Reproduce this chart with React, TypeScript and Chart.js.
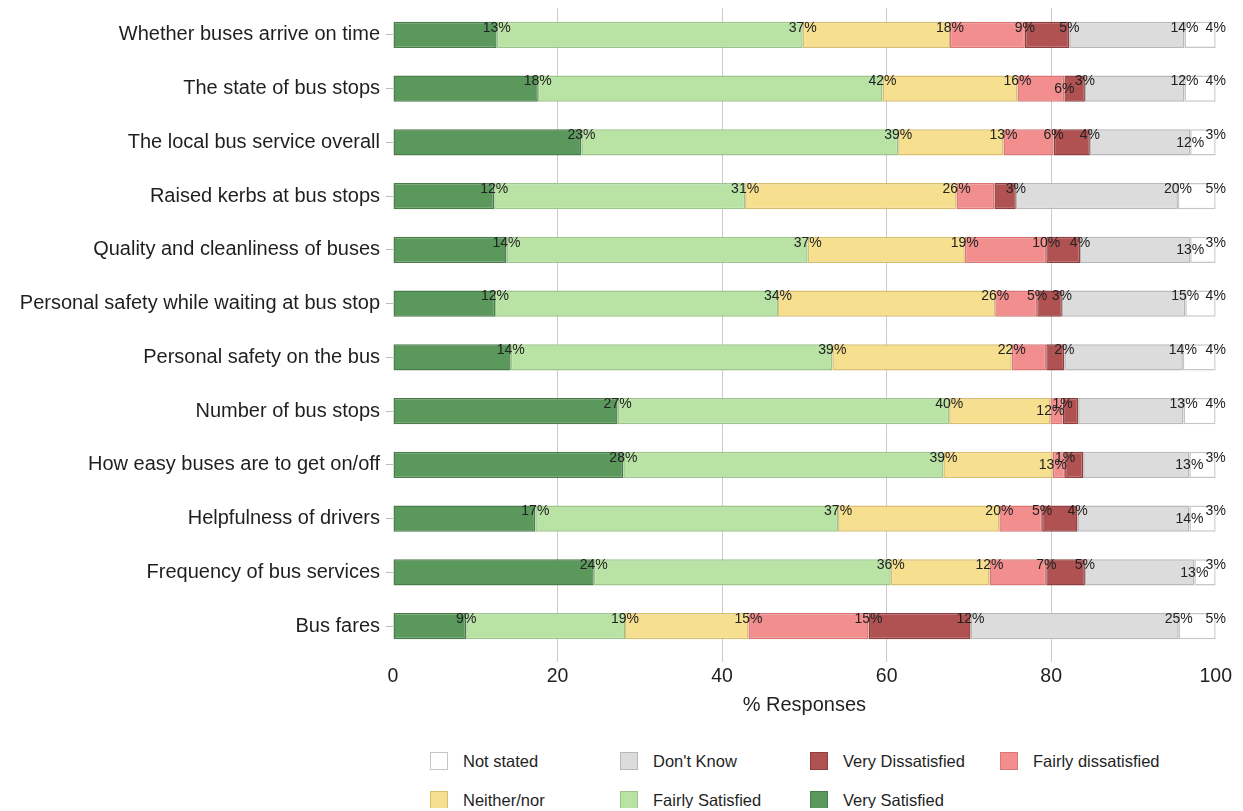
import React, { useEffect, useRef } from "react";
import { Chart, registerables } from "chart.js";

Chart.register(...registerables);

const categories = [
  "Whether buses arrive on time",
  "The state of bus stops",
  "The local bus service overall",
  "Raised kerbs at bus stops",
  "Quality and cleanliness of buses",
  "Personal safety while waiting at bus stop",
  "Personal safety on the bus",
  "Number of bus stops",
  "How easy buses are to get on/off",
  "Helpfulness of drivers",
  "Frequency of bus services",
  "Bus fares",
];

const verySatisfied = [12.6, 17.6, 22.9, 12.3, 13.8, 12.4, 14.3, 27.3, 28.0, 17.3, 24.4, 8.9];
const fairlySatisfied = [37.2, 41.9, 38.5, 30.5, 36.6, 34.4, 39.1, 40.3, 38.9, 36.8, 36.1, 19.3];
const neitherNor = [17.9, 16.4, 12.8, 25.7, 19.1, 26.4, 21.8, 12.3, 13.3, 19.6, 12.0, 15.0];
const fairlyDissatisfied = [9.1, 5.7, 6.1, 4.6, 9.9, 5.1, 4.2, 1.49, 1.49, 5.2, 6.9, 14.6];
const veryDissatisfied = [5.4, 2.5, 4.4, 2.6, 4.1, 3.0, 2.2, 1.9, 2.2, 4.3, 4.7, 12.4];
const dontKnow = [14.0, 12.1, 12.2, 19.7, 13.4, 15.0, 14.4, 12.8, 12.9, 13.6, 13.3, 25.3];
const notStated = [3.8, 3.8, 3.1, 4.6, 3.1, 3.7, 4.0, 3.9, 3.2, 3.2, 2.6, 4.5];

const seriesNames = [
  "Very Satisfied",
  "Fairly Satisfied",
  "Neither/nor",
  "Fairly dissatisfied",
  "Very Dissatisfied",
  "Don't Know",
  "Not stated",
];
const seriesValues = [
  verySatisfied,
  fairlySatisfied,
  neitherNor,
  fairlyDissatisfied,
  veryDissatisfied,
  dontKnow,
  notStated,
];
const seriesFill = ["#5b985b", "#b9e3a5", "#f6df8e", "#f28e8e", "#b05252", "#dcdcdc", "#ffffff"];
const seriesBorder = ["#4a7d4a", "#9cc48b", "#d8bf70", "#d97777", "#8f3f3f", "#b8b8b8", "#c6c6c6"];

const xTickValues = [0, 20, 40, 60, 80, 100];
const xTitle = "% Responses";

// [row, series] pairs: value labels that are omitted / drawn at the bar's middle
const hiddenLabels: [number, number][] = [[3, 3], [6, 3], [7, 4], [8, 4]];
const loweredLabels: [number, number][] = [[1, 3], [2, 5], [4, 5], [7, 2], [8, 2], [8, 5], [9, 5], [10, 5]];

const FONT = '"Liberation Sans", Arial, sans-serif';
const TEXT = "#1f1f1f";

const has = (list: [number, number][], r: number, s: number) =>
  list.some(([a, b]) => a === r && b === s);

const labelPlugin = {
  id: "segmentLabels",
  afterDatasetsDraw(chart: any) {
    const ctx = chart.ctx;
    ctx.save();
    ctx.font = `14px ${FONT}`;
    ctx.fillStyle = "#222222";
    ctx.textAlign = "center";
    ctx.textBaseline = "middle";
    chart.data.datasets.forEach((ds: any, di: number) => {
      const meta = chart.getDatasetMeta(di);
      meta.data.forEach((el: any, ri: number) => {
        if (has(hiddenLabels, ri, di)) return;
        const v = ds.data[ri];
        const low = has(loweredLabels, ri, di);
        const y = el.y + (low ? 0.5 : -7);
        ctx.fillText(`${Math.round(v)}%`, el.x, y);
      });
    });
    ctx.restore();
  },
};

export default function App() {
  const canvasRef = useRef<HTMLCanvasElement | null>(null);

  useEffect(() => {
    document.body.style.overflow = "hidden";
    const canvas = canvasRef.current;
    if (!canvas) return;
    const chart = new Chart(canvas, {
      type: "bar",
      data: {
        labels: categories,
        datasets: seriesNames.map((name, i) => ({
          label: name,
          data: seriesValues[i],
          backgroundColor: seriesFill[i],
          borderColor: seriesBorder[i],
          borderWidth: 1.5,
          borderSkipped: false,
          barPercentage: 1,
          categoryPercentage: 0.485,
        })),
      },
      options: {
        indexAxis: "y",
        animation: false,
        responsive: false,
        devicePixelRatio: 1,
        layout: { padding: { left: 0, right: 18, top: 0, bottom: 0 } },
        plugins: {
          legend: { display: false },
          tooltip: { enabled: false },
        },
        scales: {
          x: {
            stacked: true,
            min: 0,
            max: 100,
            afterBuildTicks: (scale: any) => {
              scale.ticks = xTickValues.map((v) => ({ value: v }));
            },
            ticks: {
              font: { size: 19.5, family: FONT },
              color: TEXT,
              padding: 3,
            },
            grid: {
              color: (c: any) =>
                c.tick && (c.tick.value === 0 || c.tick.value === 100) ? "rgba(0,0,0,0)" : "#cbcbcb",
              lineWidth: 1,
              drawTicks: true,
              tickLength: 9,
            },
            border: { display: false },
            title: {
              display: true,
              text: xTitle,
              font: { size: 20, family: FONT },
              color: TEXT,
              padding: { top: 4, bottom: 4 },
            },
            afterFit: (scale: any) => {
              scale.height = 68;
            },
          },
          y: {
            stacked: true,
            ticks: {
              font: { size: 20, family: FONT },
              color: TEXT,
              padding: 6,
            },
            grid: {
              offset: false,
              drawOnChartArea: false,
              drawTicks: true,
              tickLength: 7,
              color: "#bdbdbd",
            },
            border: { display: false },
            afterFit: (scale: any) => {
              scale.width = 385;
              scale.paddingTop = 0;
              scale.paddingBottom = 0;
            },
          },
        },
      },
      plugins: [labelPlugin],
    });
    return () => chart.destroy();
  }, []);

  const legendOrder = [6, 5, 4, 3, 2, 1, 0];

  return (
    <div style={{ position: "relative", width: 1227, height: 800, fontFamily: FONT }}>
      <canvas ref={canvasRef} width={1227} height={713} style={{ display: "block" }} />
      {legendOrder.map((si, k) => {
        const col = k % 4;
        const row = Math.floor(k / 4);
        const left = 422 + col * 190;
        const cy = 753 + row * 39;
        return (
          <div key={si}>
            <div
              style={{
                position: "absolute",
                left,
                top: cy - 9,
                width: 16,
                height: 16,
                background: seriesFill[si],
                border: `1px solid ${seriesBorder[si]}`,
              }}
            />
            <div
              style={{
                position: "absolute",
                left: left + 33,
                top: cy - 11,
                height: 22,
                lineHeight: "22px",
                fontSize: 16.5,
                color: TEXT,
                whiteSpace: "nowrap",
              }}
            >
              {seriesNames[si]}
            </div>
          </div>
        );
      })}
    </div>
  );
}
